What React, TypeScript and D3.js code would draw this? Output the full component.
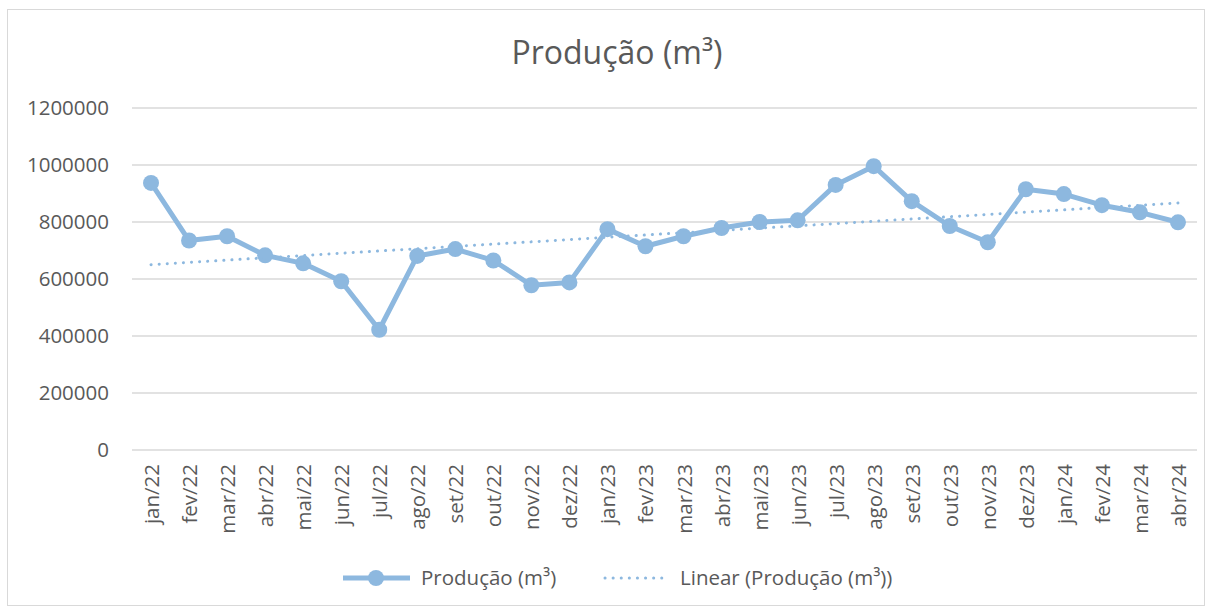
import React from "react";
import * as d3 from "d3";

const categories = ["jan/22","fev/22","mar/22","abr/22","mai/22","jun/22","jul/22","ago/22","set/22","out/22","nov/22","dez/22","jan/23","fev/23","mar/23","abr/23","mai/23","jun/23","jul/23","ago/23","set/23","out/23","nov/23","dez/23","jan/24","fev/24","mar/24","abr/24"];
const values = [937000,735000,750000,683000,655000,592000,422000,681000,705000,665000,578000,588000,775000,715000,750000,779000,800000,806000,930000,996000,873000,786000,729000,915000,898000,859000,834000,799000];
const yTicks = [0,200000,400000,600000,800000,1000000,1200000];

const W = 1213, H = 612;
const left = 132, right = 1197, top = 108, bottom = 450;
const color = "#8DB8DF";
const font = "'Open Sans', 'Noto Sans', sans-serif";
const textColor = "#595959";
const fs = 20.5;

export default function App() {
  const x = d3.scalePoint<string>().domain(categories).range([left, right]).padding(0.5);
  const y = d3.scaleLinear().domain([0, 1200000]).range([bottom, top]);
  const line = d3.line<number>().x((_, i) => x(categories[i])!).y(d => y(d));

  // linear regression trend
  const n = values.length;
  const xs = values.map((_, i) => i + 1);
  const mx = d3.mean(xs)!, my = d3.mean(values)!;
  const slope = d3.sum(xs.map((xi, i) => (xi - mx) * (values[i] - my))) / d3.sum(xs.map(xi => (xi - mx) ** 2));
  const intercept = my - slope * mx;
  const t0 = intercept + slope * 1, t1 = intercept + slope * n;

  return (
    <svg width={W} height={H} style={{ position: "absolute", left: 0, top: 0, background: "#fff" }}>
      <rect x={7.5} y={9.5} width={1197} height={596} fill="#fff" stroke="#d9d9d9" />
      <text x={617} y={64} textAnchor="middle" fontFamily={font} fontSize={32} fill={textColor}>Produção (m³)</text>
      {yTicks.map(t => (
        <g key={t}>
          <line x1={left} x2={right} y1={y(t)} y2={y(t)} stroke="#d9d9d9" strokeWidth={1.3} />
          <text x={109} y={y(t)} dy="0.35em" textAnchor="end" fontFamily={font} fontSize={fs} fill={textColor}>{t}</text>
        </g>
      ))}
      {categories.map(c => (
        <text key={c} transform={`translate(${x(c)! + 8},${464}) rotate(-90)`} textAnchor="end" fontFamily={font} fontSize={fs} fill={textColor}>{c}</text>
      ))}
      <path d={line(values)!} fill="none" stroke={color} strokeWidth={5} strokeLinejoin="round" />
      {values.map((v, i) => (
        <circle key={i} cx={x(categories[i])!} cy={y(v)} r={8} fill={color} />
      ))}
      <line x1={x(categories[0])!} x2={x(categories[n - 1])!} y1={y(t0)} y2={y(t1)} stroke={color} strokeWidth={3} strokeDasharray="0.1 8" strokeLinecap="round" />
      <g>
        <line x1={343} x2={410} y1={578} y2={578} stroke={color} strokeWidth={5} />
        <circle cx={376} cy={578} r={8} fill={color} />
        <text x={421} y={578} dy="0.35em" fontFamily={font} fontSize={fs} fill={textColor}>Produção (m³)</text>
        <line x1={605} x2={663} y1={578} y2={578} stroke={color} strokeWidth={3} strokeDasharray="0.1 8" strokeLinecap="round" />
        <text x={680} y={578} dy="0.35em" fontFamily={font} fontSize={fs} fill={textColor}>Linear (Produção (m³))</text>
      </g>
    </svg>
  );
}
